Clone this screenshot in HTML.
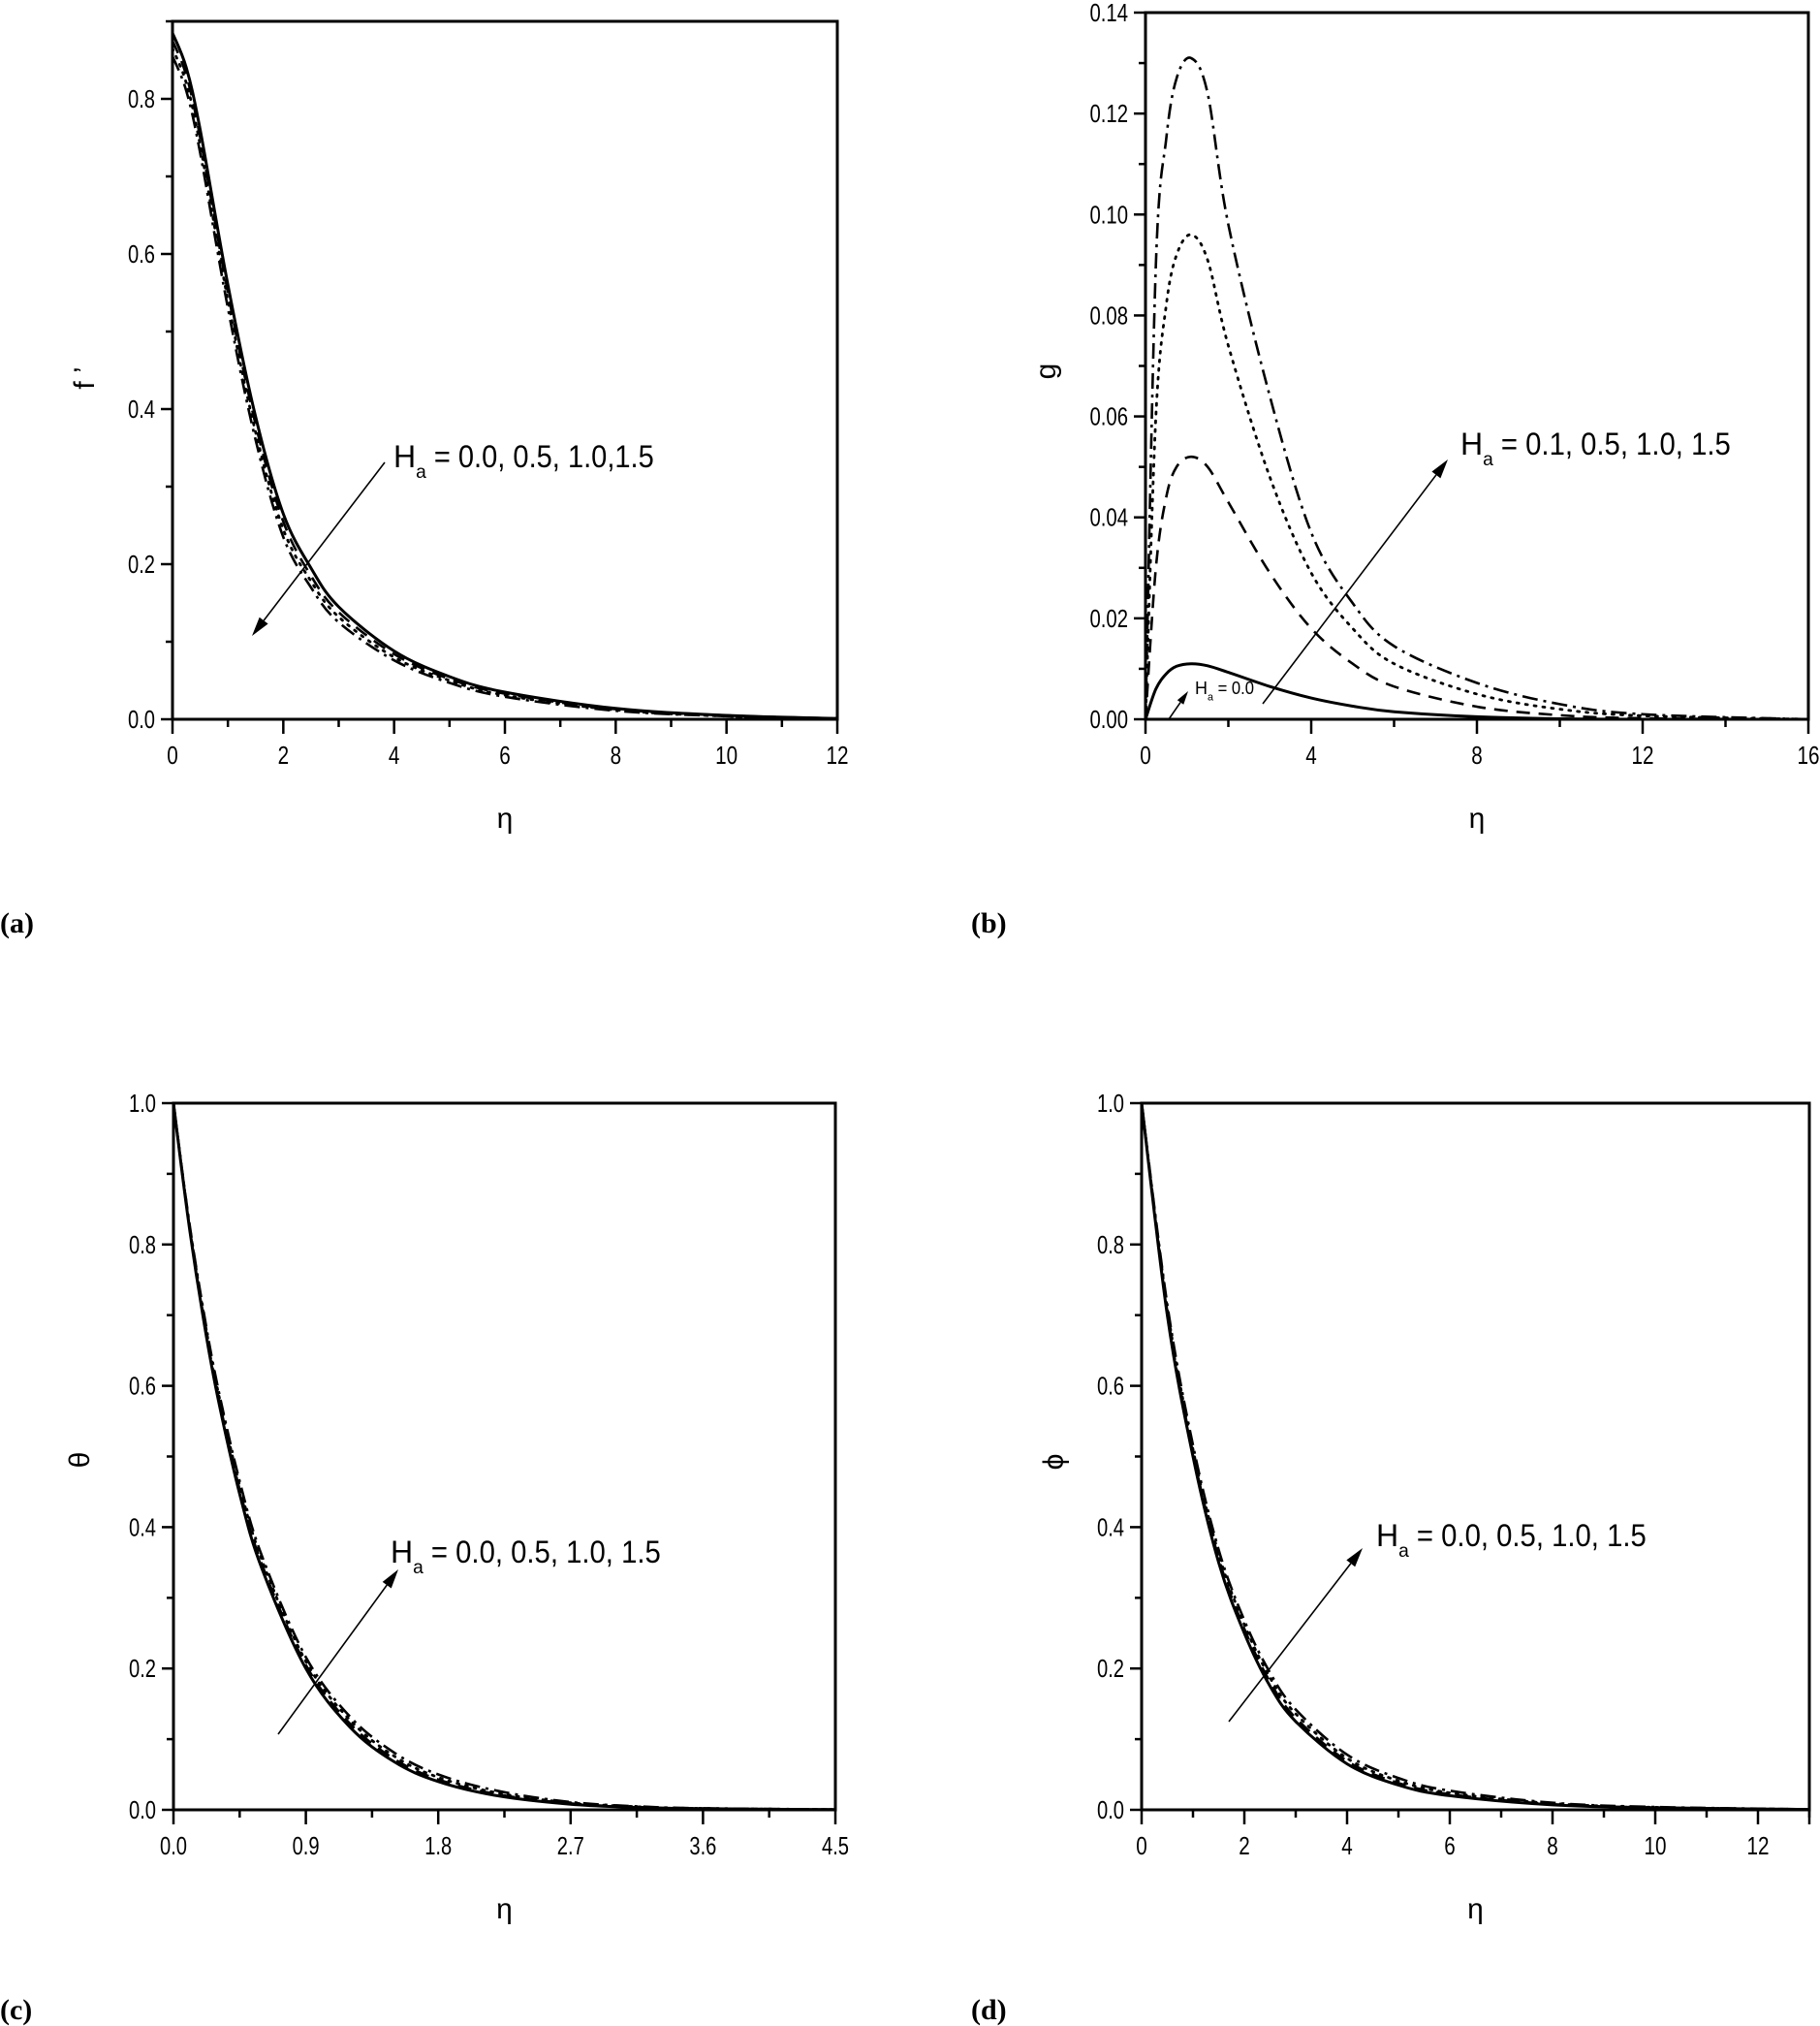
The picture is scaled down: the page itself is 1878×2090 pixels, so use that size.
<!DOCTYPE html>
<html><head><meta charset="utf-8">
<style>
html,body{margin:0;padding:0;background:#fff;}
svg{display:block;}
text{font-family:"Liberation Sans Narrow","Liberation Sans",sans-serif;fill:#000;}
.lbl{font-family:"Liberation Serif",serif;font-weight:bold;font-size:30px;}
</style></head>
<body>
<svg id="fig" width="1878" height="2090" viewBox="0 0 1878 2090" xmlns="http://www.w3.org/2000/svg"></svg>
<script>
// ---- Panel (a) f' ----
const etaA = [0,0.25,0.5,1,1.5,2,2.5,3,4,5,6,8,10,12];
const fA0 = [0.885,0.84,0.76,0.56,0.39,0.265,0.195,0.145,0.088,0.055,0.035,0.014,0.005,0.001];
const fA1 = [0.875,0.83,0.75,0.55,0.38,0.255,0.185,0.138,0.084,0.052,0.033,0.013,0.005,0.001];
const fA2 = [0.865,0.82,0.74,0.54,0.37,0.245,0.178,0.132,0.08,0.05,0.031,0.012,0.004,0.001];
const fA3 = [0.855,0.81,0.73,0.53,0.36,0.235,0.17,0.125,0.076,0.047,0.029,0.011,0.004,0.001];
const xTicksA = ["0","2","4","6","8","10","12"];
const yTicksA = ["0.0","0.2","0.4","0.6","0.8"];
// ---- Panel (b) g ----
const etaB = [0,0.25,0.5,0.75,1.1,1.5,2,3,4,5,6,8,10,12,16];
const gB0 = [0,0.006,0.009,0.0105,0.011,0.0106,0.0093,0.0065,0.0042,0.0026,0.0015,0.0005,0.0001,0,0];
const gB1 = [0,0.03,0.044,0.05,0.052,0.050,0.043,0.029,0.018,0.011,0.0065,0.0025,0.0008,0.0002,0];
const gB2 = [0,0.06,0.082,0.092,0.096,0.091,0.074,0.048,0.029,0.018,0.011,0.005,0.002,0.0007,0];
const gB3 = [0,0.09,0.115,0.127,0.131,0.124,0.098,0.064,0.037,0.023,0.0145,0.0072,0.003,0.001,0];
const xTicksB = ["0","4","8","12","16"];
const yTicksB = ["0.00","0.02","0.04","0.06","0.08","0.10","0.12","0.14"];
// ---- Panel (c) theta ----
const etaC = [0,0.1,0.2,0.3,0.45,0.6,0.9,1.2,1.5,1.8,2.2,2.7,3.2,3.6,4.5];
const tC0 = [1,0.836,0.699,0.585,0.447,0.342,0.2,0.117,0.068,0.04,0.02,0.008,0.003,0.0016,0.0003];
const tC1 = [1,0.838,0.703,0.59,0.453,0.348,0.205,0.122,0.072,0.043,0.022,0.009,0.0035,0.0018,0.0003];
const tC2 = [1,0.84,0.707,0.595,0.459,0.354,0.21,0.127,0.076,0.046,0.024,0.01,0.004,0.002,0.0004];
const tC3 = [1,0.842,0.711,0.6,0.465,0.36,0.216,0.132,0.081,0.05,0.027,0.011,0.0045,0.0022,0.0004];
const xTicksC = ["0.0","0.9","1.8","2.7","3.6","4.5"];
const yTicksC = ["0.0","0.2","0.4","0.6","0.8","1.0"];
// ---- Panel (d) phi ----
const etaD = [0,0.5,1,1.5,2,2.5,3,4,5,6,8,10,13];
const pD0 = [1,0.7,0.5,0.35,0.25,0.175,0.125,0.065,0.035,0.02,0.007,0.003,0.0005];
const pD1 = [1,0.705,0.505,0.356,0.256,0.181,0.13,0.069,0.038,0.022,0.008,0.003,0.0005];
const pD2 = [1,0.71,0.51,0.362,0.262,0.187,0.136,0.073,0.041,0.024,0.009,0.0035,0.0006];
const pD3 = [1,0.715,0.516,0.368,0.268,0.194,0.142,0.078,0.045,0.027,0.01,0.004,0.0007];
const xTicksD = ["0","2","4","6","8","10","12"];
const yTicksD = ["0.0","0.2","0.4","0.6","0.8","1.0"];

const NS = "http://www.w3.org/2000/svg";
const svg = document.getElementById('fig');
function mk(tag, attrs, parent){
  const e = document.createElementNS(NS, tag);
  for (const k in attrs) e.setAttribute(k, attrs[k]);
  (parent||svg).appendChild(e);
  return e;
}
const STYLES = [
  {dash:null, w:3},
  {dash:"14,9", w:2.6},
  {dash:"2,7", w:2.8},
  {dash:"16,6,3,6", w:2.6}
];
function tw(s){ let w=0; for (const c of s) w += (c==='.'?5:11.5); return w; }
function smoothPath(pts){
  let d = "M"+pts[0][0].toFixed(1)+","+pts[0][1].toFixed(1);
  for (let i=0;i<pts.length-1;i++){
    const p0=pts[Math.max(0,i-1)], p1=pts[i], p2=pts[i+1], p3=pts[Math.min(pts.length-1,i+2)];
    const c1=[p1[0]+(p2[0]-p0[0])/6, p1[1]+(p2[1]-p0[1])/6];
    const c2=[p2[0]-(p3[0]-p1[0])/6, p2[1]-(p3[1]-p1[1])/6];
    d += " C"+c1[0].toFixed(1)+","+c1[1].toFixed(1)+" "+c2[0].toFixed(1)+","+c2[1].toFixed(1)+" "+p2[0].toFixed(1)+","+p2[1].toFixed(1);
  }
  return d;
}
function panel(cfg){
  const g = mk('g', {});
  
  
  const sx = v => cfg.L + (v - cfg.xmin)/(cfg.xmax-cfg.xmin)*(cfg.R-cfg.L);
  const sy = v => cfg.B - (v - cfg.ymin)/(cfg.ymax-cfg.ymin)*(cfg.B-cfg.T);
  cfg.series.forEach((ys, si) => {
    const pts = cfg.x.map((xv,i)=>[sx(xv), sy(ys[i])]);
    const p = mk('path', {d:smoothPath(pts), fill:'none', stroke:'#000', 'stroke-width':STYLES[si].w, 'stroke-linecap': si===2?'round':'butt'}, g);
    if (STYLES[si].dash) p.setAttribute('stroke-dasharray', STYLES[si].dash);
    
    
  });
  const fr = mk('rect', {x:cfg.L, y:cfg.T, width:cfg.R-cfg.L, height:cfg.B-cfg.T, fill:'none', stroke:'#000', 'stroke-width':3}, g);
  
  
  // x ticks
  const xt = cfg.xTicks, xstep = cfg.xstep;
  for (let i=0;i<xt.length;i++){
    const v = cfg.xmin + i*xstep, X = sx(v);
    mk('line', {x1:X, y1:cfg.B, x2:X, y2:cfg.B+15, stroke:'#000', 'stroke-width':2.5}, g);
    const t = mk('text', {x:X, y:cfg.B+46, 'font-size':26, 'text-anchor':'middle', textLength:tw(xt[i]), lengthAdjust:'spacingAndGlyphs'}, g);
    t.textContent = xt[i];
    
    
  }
  for (let v = cfg.xmin + xstep/2; v <= cfg.xmax + 1e-9; v += xstep){
    const m = sx(v); mk('line', {x1:m, y1:cfg.B, x2:m, y2:cfg.B+8, stroke:'#000', 'stroke-width':2.5}, g);
  }
  if (cfg.extraX){ cfg.extraX.forEach(v=>{const X=sx(v); mk('line',{x1:X,y1:cfg.B,x2:X,y2:cfg.B+15,stroke:'#000','stroke-width':2.5},g);}); }
  // y ticks
  const yt = cfg.yTicks, ystep = cfg.ystep;
  for (let i=0;i<yt.length;i++){
    const v = cfg.ymin + i*ystep, Y = sy(v);
    mk('line', {x1:cfg.L-12, y1:Y, x2:cfg.L, y2:Y, stroke:'#000', 'stroke-width':2.5}, g);
    const t = mk('text', {x:cfg.L-18, y:Y+9, 'font-size':26, 'text-anchor':'end', textLength:tw(yt[i]), lengthAdjust:'spacingAndGlyphs'}, g);
    t.textContent = yt[i];
    
    
    const m = sy(v + ystep/2);
    if (m >= cfg.T-1) mk('line', {x1:cfg.L-7, y1:m, x2:cfg.L, y2:m, stroke:'#000', 'stroke-width':2.5}, g);
  }
  const xtl = mk('text', {x:(cfg.L+cfg.R)/2, y:cfg.B+112, 'font-size':30, 'text-anchor':'middle'}, g);
  xtl.textContent = 'η';
  
  
  const ytl = mk('text', {x:cfg.yt[0], y:cfg.yt[1], 'font-size':30, 'text-anchor':'middle', transform:'rotate(-90 '+cfg.yt[0]+' '+cfg.yt[1]+')'}, g);
  ytl.textContent = cfg.ytitle;
  
  
  return g;
}
function arrow(x1,y1,x2,y2,name,head){
  head = head||20;
  const g = mk('g', {});
  
  
  const a = Math.atan2(y2-y1, x2-x1);
  const bx = x2 - head*Math.cos(a), by = y2 - head*Math.sin(a);
  mk('line', {x1:x1, y1:y1, x2:bx, y2:by, stroke:'#000', 'stroke-width':1.6}, g);
  const w = head*0.28;
  const p = [[x2,y2],[bx + w*Math.sin(a), by - w*Math.cos(a)],[bx - w*Math.sin(a), by + w*Math.cos(a)]];
  mk('polygon', {points:p.map(q=>q.join(',')).join(' '), fill:'#000'}, g);
}
function annot(x,y,rest,size,name,len){
  const t = mk('text', {x:x, y:y, 'font-size':size});
  
  
  const s1 = mk('tspan', {}, t); s1.textContent = 'H';
  const s2 = mk('tspan', {dy:size*0.35, 'font-size':size*0.6}, t); s2.textContent = 'a';
  const s3 = mk('tspan', {dy:-size*0.35, textLength:len, lengthAdjust:'spacingAndGlyphs'}, t); s3.textContent = ' ' + rest;
}
function label(x,y,txt,name){
  const t = mk('text', {x:x, y:y, 'class':'lbl'});
  t.textContent = txt;
  
  
}

panel({name:'panel-a', L:178, R:864, T:22, B:742, xmin:0, xmax:12, xstep:2, ymin:0, ymax:0.9, ystep:0.2,
  x:etaA, series:[fA0,fA1,fA2,fA3], xTicks:xTicksA, yTicks:yTicksA, ytitle:'f ’', yt:[97,390]});
panel({name:'panel-b', L:1182, R:1866, T:13, B:742, xmin:0, xmax:16, xstep:4, ymin:0, ymax:0.14, ystep:0.02,
  x:etaB, series:[gB0,gB1,gB2,gB3], xTicks:xTicksB, yTicks:yTicksB, ytitle:'g', yt:[1089,383]});
panel({name:'panel-c', L:179, R:862, T:1138, B:1867, xmin:0, xmax:4.5, xstep:0.9, ymin:0, ymax:1.0, ystep:0.2,
  x:etaC, series:[tC0,tC1,tC2,tC3], xTicks:xTicksC, yTicks:yTicksC, ytitle:'θ', yt:[92,1506]});
panel({name:'panel-d', L:1178, R:1867, T:1138, B:1867, xmin:0, xmax:13, xstep:2, ymin:0, ymax:1.0, ystep:0.2,
  x:etaD, series:[pD0,pD1,pD2,pD3], xTicks:xTicksD, yTicks:yTicksD, ytitle:'ϕ', yt:[1097,1508], extraX:[13]});

arrow(397,477,260,656,'arrow-a');
annot(406,482,'= 0.0, 0.5, 1.0,1.5',32,'annotation-a',235);
arrow(1303,726,1494,474,'arrow-b');
annot(1507,469,'= 0.1, 0.5, 1.0, 1.5',32,'annotation-b',245);
arrow(1206,742,1226,713,'arrow-b-zero',14);
annot(1233,716,'= 0.0',18,'annotation-b-zero',42);
arrow(287,1789,411,1619,'arrow-c');
annot(403,1612,'= 0.0, 0.5, 1.0, 1.5',32,'annotation-c',245);
arrow(1268,1776,1406,1597,'arrow-d');
annot(1420,1595,'= 0.0, 0.5, 1.0, 1.5',32,'annotation-d',245);

label(0,962,'(a)','label-a');
label(1002,962,'(b)','label-b');
label(0,2083,'(c)','label-c');
label(1002,2083,'(d)','label-d');
</script>
</body></html>
